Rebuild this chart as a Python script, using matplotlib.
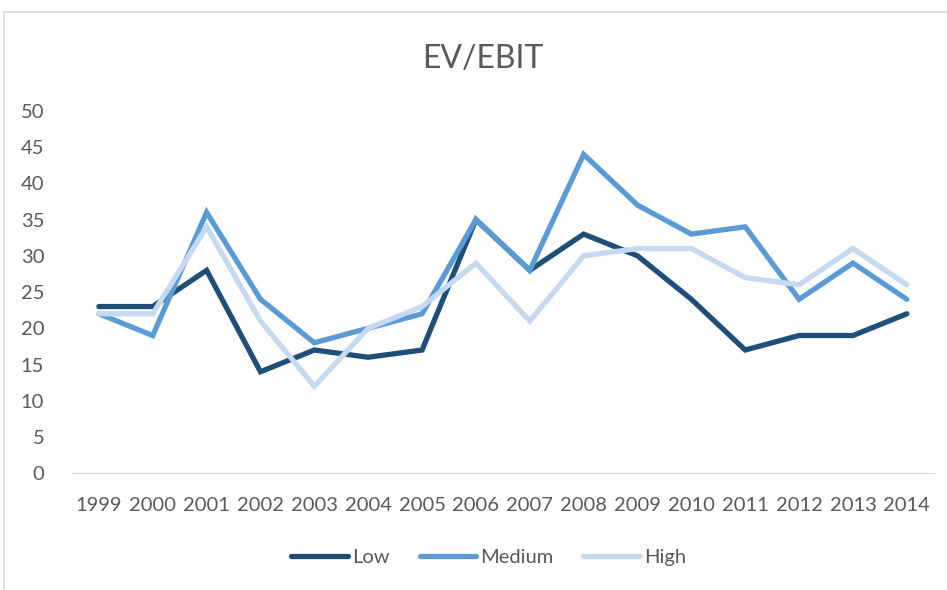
import matplotlib.pyplot as plt
from matplotlib.patches import Rectangle

years = ['1999', '2000', '2001', '2002', '2003', '2004', '2005', '2006',
         '2007', '2008', '2009', '2010', '2011', '2012', '2013', '2014']
low = [23, 23, 28, 14, 17, 16, 17, 35, 28, 33, 30, 24, 17, 19, 19, 22]
medium = [22, 19, 36, 24, 18, 20, 22, 35, 28, 44, 37, 33, 34, 24, 29, 24]
high = [22, 22, 34, 21, 12, 20, 23, 29, 21, 30, 31, 31, 27, 26, 31, 26]
y_ticks = [0, 5, 10, 15, 20, 25, 30, 35, 40, 45, 50]

plt.rcParams['font.family'] = ['Lato', 'DejaVu Sans']
text_color = '#595959'

fig = plt.figure(figsize=(9.47, 5.9), dpi=100)
ax = fig.add_axes([0.076, 0.198, 0.910, 0.614])

x = range(len(years))
ax.plot(x, low, label='Low', color='#1f4e79', linewidth=3.8, solid_capstyle='round', solid_joinstyle='miter')
ax.plot(x, medium, label='Medium', color='#5b9bd5', linewidth=3.8, solid_capstyle='round', solid_joinstyle='miter')
ax.plot(x, high, label='High', color='#c5d9f1', linewidth=3.8, solid_capstyle='round', solid_joinstyle='miter')

ax.set_xlim(-0.5, len(years) - 0.5)
ax.set_ylim(0, 50)
ax.set_yticks(y_ticks)
ax.set_xticks(list(x))
ax.set_xticklabels(years)
ax.tick_params(length=0, labelsize=14.5, labelcolor=text_color)
ax.tick_params(axis='x', pad=17)
ax.tick_params(axis='y', pad=20)
for s in ['top', 'right', 'left']:
    ax.spines[s].set_visible(False)
ax.spines['bottom'].set_color('#d9d9d9')

fig.text(0.51, 0.90, 'EV/EBIT', ha='center', va='center', fontsize=23, color=text_color)

leg = fig.legend(loc='center', bbox_to_anchor=(0.516, 0.055), ncol=3, frameon=False,
                 fontsize=14.5, handlelength=2.8, handletextpad=0.2, columnspacing=1.5)
for t in leg.get_texts():
    t.set_color(text_color)

fig.add_artist(Rectangle((0.0045, -0.1), 1.2, 0.9795 + 0.1, transform=fig.transFigure,
                         fill=False, edgecolor='#d9d9d9', linewidth=1.2))

fig.savefig('out.png', dpi=100)
